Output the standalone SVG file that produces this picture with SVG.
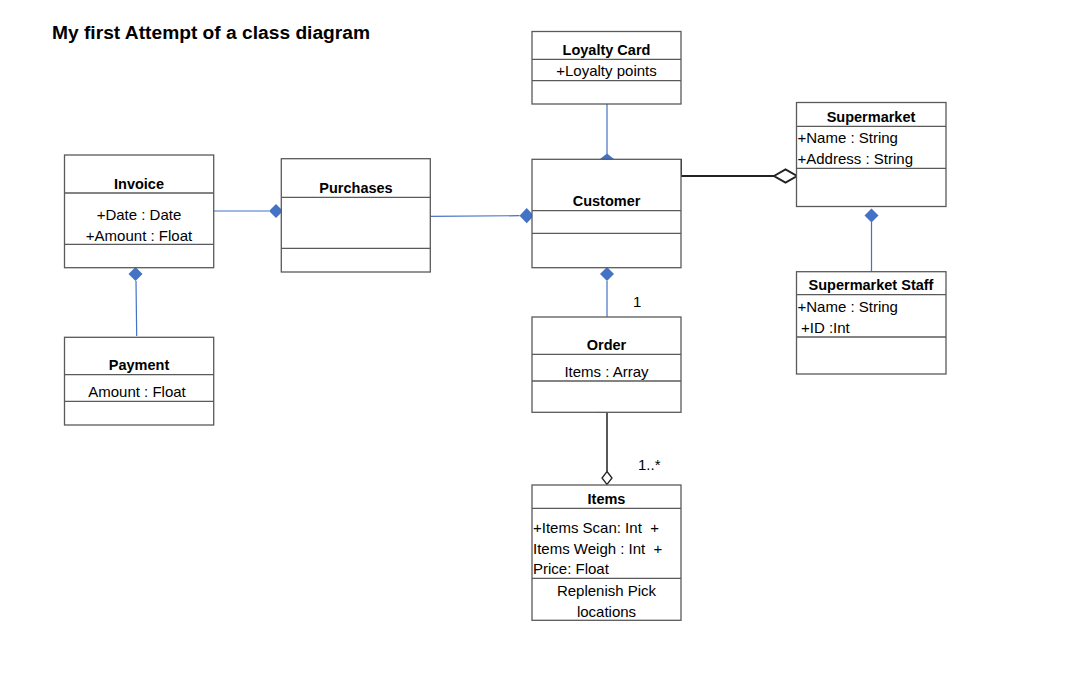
<svg xmlns="http://www.w3.org/2000/svg" width="1070" height="698" viewBox="0 0 1070 698">
<style>
.box{fill:#fff;stroke:#5a5a5a;stroke-width:1.3}
.div{stroke:#5a5a5a;stroke-width:1.3;fill:none}
.t{font-family:"Liberation Sans",Arial,sans-serif;font-size:14.5px;font-weight:bold;fill:#000;text-anchor:middle}
.a{font-family:"Liberation Sans",Arial,sans-serif;font-size:15px;fill:#000}
.c{text-anchor:middle}
.blue{stroke:#4472C4;stroke-width:1.2;fill:none}
.dia{fill:#4472C4;stroke:none}
.blk{stroke:#222;stroke-width:2;fill:none}
</style>
<rect width="1070" height="698" fill="#fff"/>
<text x="52" y="39" font-family="Liberation Sans,Arial,sans-serif" font-size="18" font-weight="bold" textLength="318" lengthAdjust="spacingAndGlyphs">My first Attempt of a class diagram</text>

<g id="connectors">
  <line class="blue" x1="607" y1="104" x2="607" y2="154"/>
  <polygon class="dia" points="600,159 607,153.5 614,159 607,164"/>
  <polyline class="blk" points="681,159 681,176 774,176"/>
  <polygon points="774,176 785.5,169.5 797,176 785.5,182.5" fill="#fff" stroke="#222" stroke-width="2"/>
  <line class="blue" x1="871.5" y1="222" x2="871.5" y2="272"/>
  <polygon class="dia" points="864.5,215.5 871.5,208.5 878.5,215.5 871.5,222.5"/>
  <line class="blue" x1="214" y1="211" x2="269" y2="211"/>
  <polygon class="dia" points="269,211 276,204 283,211 276,218"/>
  <line class="blue" x1="428" y1="216.3" x2="519.5" y2="215.7"/>
  <polygon class="dia" points="519.5,215.7 526.7,208 534,215.7 526.7,223.3"/>
  <line class="blue" x1="136" y1="281" x2="136.7" y2="336"/>
  <polygon class="dia" points="128.5,274 135.5,267 142.5,274 135.5,281"/>
  <line class="blue" x1="607" y1="281" x2="607" y2="317"/>
  <polygon class="dia" points="600,274 607,267 614,274 607,281"/>
  <polyline points="596,412 607,412 607,471.5" fill="none" stroke="#222" stroke-width="1.5"/>
  <polygon points="607,471.5 612,478 607,484.5 602,478" fill="#fff" stroke="#222" stroke-width="1.3"/>
  <text class="a" x="633" y="307">1</text>
  <text class="a" x="638" y="470">1..*</text>
</g>

<g id="loyalty-card">
  <rect class="box" x="532" y="31.5" width="149" height="72.5"/>
  <line class="div" x1="532" y1="59.3" x2="681" y2="59.3"/>
  <line class="div" x1="532" y1="80.7" x2="681" y2="80.7"/>
  <text class="t" x="606.5" y="54.5">Loyalty Card</text>
  <text class="a c" x="606.5" y="76">+Loyalty points</text>
</g>

<g id="customer">
  <rect class="box" x="532" y="159.3" width="149" height="108.4"/>
  <line class="div" x1="532" y1="210.7" x2="681" y2="210.7"/>
  <line class="div" x1="532" y1="233.3" x2="681" y2="233.3"/>
  <text class="t" x="606.5" y="205.5">Customer</text>
</g>

<g id="supermarket">
  <rect class="box" x="796.5" y="102.5" width="149.5" height="104"/>
  <line class="div" x1="796.5" y1="126.3" x2="946" y2="126.3"/>
  <line class="div" x1="796.5" y1="168.3" x2="946" y2="168.3"/>
  <text class="t" x="871" y="121.5">Supermarket</text>
  <text class="a" x="797.5" y="143">+Name : String</text>
  <text class="a" x="797.5" y="163.5">+Address : String</text>
</g>

<g id="supermarket-staff">
  <rect class="box" x="796.5" y="271.7" width="149.5" height="102.3"/>
  <line class="div" x1="796.5" y1="294.7" x2="946" y2="294.7"/>
  <line class="div" x1="796.5" y1="337" x2="946" y2="337"/>
  <text class="t" x="871" y="289.5">Supermarket Staff</text>
  <text class="a" x="797.5" y="312">+Name : String</text>
  <text class="a" x="801" y="333">+ID :Int</text>
</g>

<g id="invoice">
  <rect class="box" x="64.5" y="155" width="149.2" height="112.7"/>
  <line class="div" x1="64.5" y1="193" x2="213.7" y2="193"/>
  <line class="div" x1="64.5" y1="244.3" x2="213.7" y2="244.3"/>
  <text class="t" x="139" y="189">Invoice</text>
  <text class="a c" x="139" y="220">+Date : Date</text>
  <text class="a c" x="139" y="241">+Amount : Float</text>
</g>

<g id="purchases">
  <rect class="box" x="281.3" y="158.7" width="149" height="113.3"/>
  <line class="div" x1="281.3" y1="197.3" x2="430.3" y2="197.3"/>
  <line class="div" x1="281.3" y1="248.3" x2="430.3" y2="248.3"/>
  <text class="t" x="356" y="193">Purchases</text>
</g>

<g id="payment">
  <rect class="box" x="64.5" y="337.3" width="149.2" height="87.7"/>
  <line class="div" x1="64.5" y1="374.7" x2="213.7" y2="374.7"/>
  <line class="div" x1="64.5" y1="401.3" x2="213.7" y2="401.3"/>
  <text class="t" x="139" y="370">Payment</text>
  <text class="a c" x="137" y="397">Amount : Float</text>
</g>

<g id="order">
  <rect class="box" x="532" y="317" width="149" height="95.3"/>
  <line class="div" x1="532" y1="354.3" x2="681" y2="354.3"/>
  <line class="div" x1="532" y1="381" x2="681" y2="381"/>
  <text class="t" x="606.5" y="349.5">Order</text>
  <text class="a c" x="606.5" y="377">Items : Array</text>
</g>

<g id="items">
  <rect class="box" x="532" y="485" width="149" height="135.3"/>
  <line class="div" x1="532" y1="508.3" x2="681" y2="508.3"/>
  <line class="div" x1="532" y1="578.3" x2="681" y2="578.3"/>
  <text class="t" x="606.5" y="504">Items</text>
  <text class="a" x="533" y="533" xml:space="preserve">+Items Scan: Int  +</text>
  <text class="a" x="533" y="554" xml:space="preserve">Items Weigh : Int  +</text>
  <text class="a" x="533" y="574">Price: Float</text>
  <text class="a c" x="606.5" y="596">Replenish Pick</text>
  <text class="a c" x="606.5" y="617">locations</text>
</g>
</svg>
